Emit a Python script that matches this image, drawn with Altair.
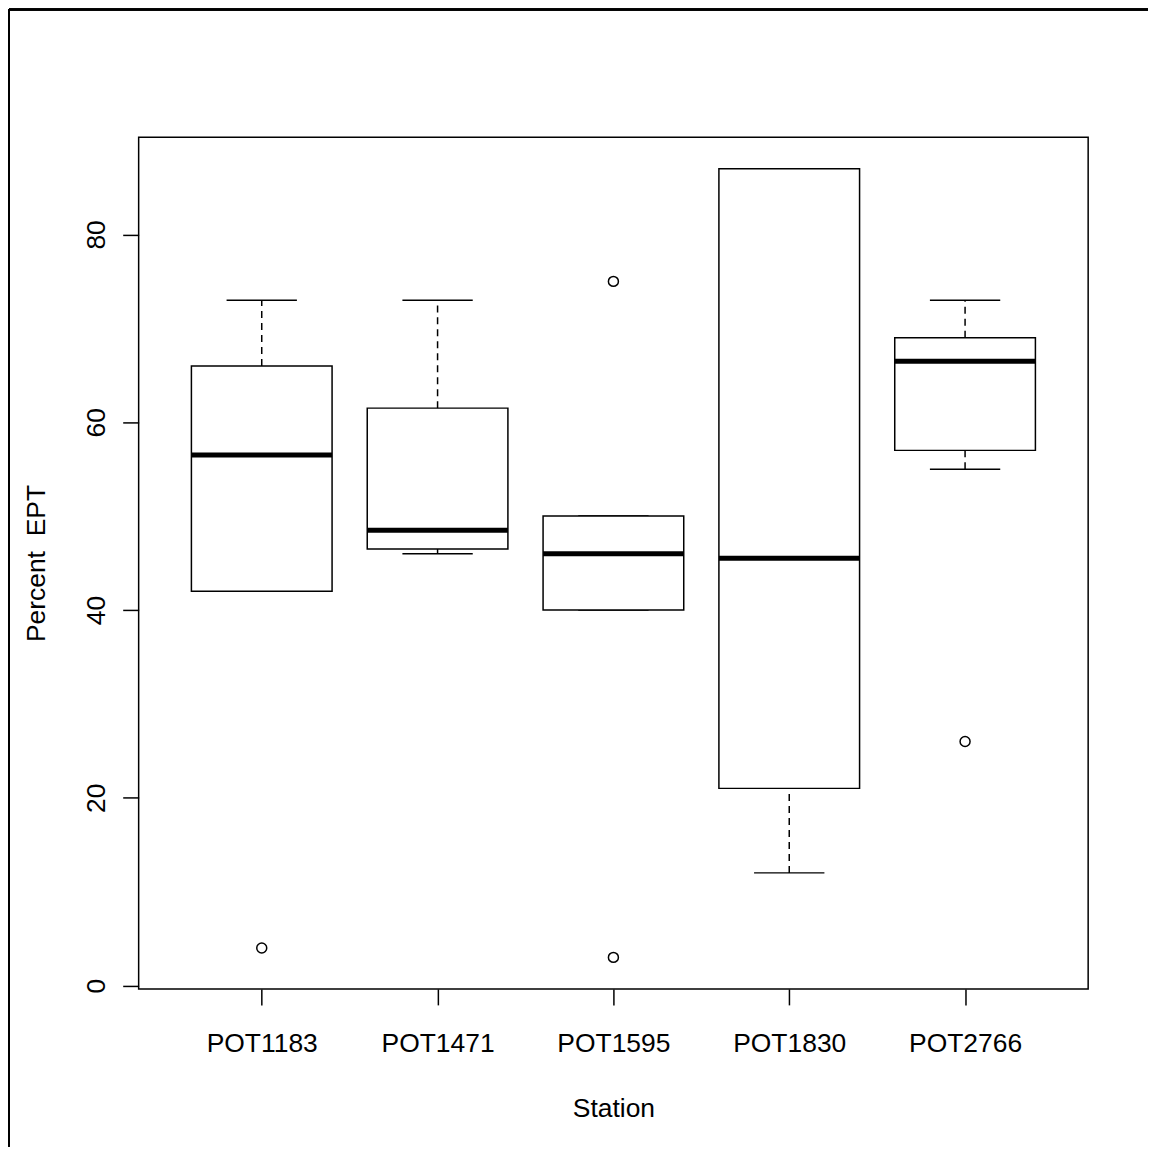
import altair as alt
import pandas as pd

stations = ["POT1183", "POT1471", "POT1595", "POT1830", "POT2766"]
whisker_low = [42, 46, 40, 12, 55]
q1 = [42, 46.5, 40, 21, 57]
median = [56.5, 48.5, 46, 45.5, 66.5]
q3 = [66, 61.5, 50, 87, 69]
whisker_high = [73, 73, 50, 87, 73]

outlier_station = ["POT1183", "POT1595", "POT1595", "POT2766"]
outlier_value = [4, 75, 3, 26]

y_ticks = [0, 20, 40, 60, 80]

FONT = "Liberation Sans"
FS = 26.5
LW = 1.5

pos = {s: i + 1 for i, s in enumerate(stations)}
box = pd.DataFrame({
    "station": stations,
    "pos": [pos[s] for s in stations],
    "lo": whisker_low, "q1": q1, "med": median, "q3": q3, "hi": whisker_high,
})
box["left"] = box["pos"] - 0.4
box["right"] = box["pos"] + 0.4
box["capl"] = box["pos"] - 0.2
box["capr"] = box["pos"] + 0.2

out = pd.DataFrame({"station": outlier_station, "value": outlier_value})
out["pos"] = out["station"].map(pos)

label_expr = "[" + ",".join(f"'{s}'" for s in stations) + "][datum.value - 1]"

xscale = alt.Scale(domain=[0.3, 5.7], nice=False, zero=False)
yscale = alt.Scale(domain=[-0.36, 90.36], nice=False, zero=False)

xaxis = alt.Axis(values=[1, 2, 3, 4, 5], labelExpr=label_expr, title="Station",
                 grid=False, domain=False, ticks=True, tickSize=16, tickColor="black",
                 tickWidth=LW, labelFont=FONT, labelFontSize=FS, labelColor="black",
                 labelPadding=26, labelFlush=False, titleFont=FONT, titleFontSize=FS,
                 titleFontWeight="normal", titleColor="black", titlePadding=38)
yaxis = alt.Axis(values=y_ticks, title="Percent\u00a0 EPT", grid=False, domain=False,
                 tickSize=16, tickColor="black", tickWidth=LW, labelAngle=270,
                 labelAlign="center", labelBaseline="bottom", labelFont=FONT,
                 labelFontSize=FS, labelColor="black", labelPadding=12, labelFlush=False,
                 titleFont=FONT, titleFontSize=FS, titleFontWeight="normal",
                 titleColor="black", titlePadding=33)

base = alt.Chart(box)

whisk_up = base.mark_rule(color="black", strokeWidth=LW, strokeDash=[7, 5]).encode(
    x=alt.X("pos:Q", scale=xscale, axis=xaxis),
    y=alt.Y("q3:Q", scale=yscale, axis=yaxis),
    y2="hi:Q",
)
whisk_dn = base.mark_rule(color="black", strokeWidth=LW, strokeDash=[7, 5]).encode(
    x="pos:Q", y="lo:Q", y2="q1:Q")
cap_hi = base.mark_rule(color="black", strokeWidth=LW).encode(
    x="capl:Q", x2="capr:Q", y="hi:Q")
cap_lo = base.mark_rule(color="black", strokeWidth=LW).encode(
    x="capl:Q", x2="capr:Q", y="lo:Q")
rects = base.mark_rect(fill="white", stroke="black", strokeWidth=LW).encode(
    x="left:Q", x2="right:Q", y="q1:Q", y2="q3:Q")
meds = base.mark_rule(color="black", strokeWidth=5).encode(
    x="left:Q", x2="right:Q", y="med:Q")

pts = alt.Chart(out).mark_point(shape="circle", filled=False, color="black",
                                strokeWidth=LW, size=100, opacity=1).encode(
    x="pos:Q", y="value:Q")

frame_left = alt.Chart(box).mark_rule(color="black", strokeWidth=2).encode(
    x=alt.value(-130), y=alt.value(-128), y2=alt.value(1012))
frame_top = alt.Chart(box).mark_rule(color="black", strokeWidth=2).encode(
    x=alt.value(-130), x2=alt.value(1012), y=alt.value(-128))

chart = alt.layer(whisk_up, whisk_dn, cap_hi, cap_lo, rects, meds, pts,
                  frame_left, frame_top).properties(
    width=952, height=854,
    autosize=alt.AutoSizeParams(type="none"),
    padding={"left": 131, "top": 128, "right": 60, "bottom": 161},
    background="white",
).configure_view(stroke="black", strokeWidth=LW)

chart.save("out.html", embed_options={"renderer": "svg", "actions": False})
